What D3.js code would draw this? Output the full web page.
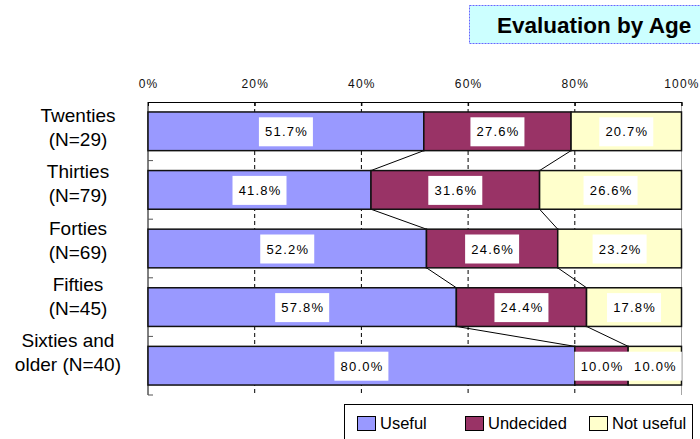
<!DOCTYPE html>
<html>
<head>
<meta charset="utf-8">
<script src="https://cdn.jsdelivr.net/npm/d3@7"></script>
<style>
  body { margin: 0; background: #fff; }
  svg { display: block; }
  svg text { font-family: "Liberation Sans", Arial, sans-serif; }
</style>
</head>
<body>
<div id="chart"></div>
<script>
// Data
const categories = ["Twenties (N=29)", "Thirties (N=79)", "Forties (N=69)", "Fifties (N=45)", "Sixties and older (N=40)"];
const labelLines = [["Twenties", "(N=29)"], ["Thirties", "(N=79)"], ["Forties", "(N=69)"], ["Fifties", "(N=45)"], ["Sixties and", "older (N=40)"]];
const seriesNames = ["Useful", "Undecided", "Not useful"];
const useful = [51.7, 41.8, 52.2, 57.8, 80.0];
const undecided = [27.6, 31.6, 24.6, 24.4, 10.0];
const notUseful = [20.7, 26.6, 23.2, 17.8, 10.0];
const xTicks = [0, 20, 40, 60, 80, 100];
const colors = ["#9999ff", "#993366", "#ffffcc"];

const W = 700, H = 439;
const margin = { top: 102, left: 148, right: 19, bottom: 44 };

const svg = d3.select("#chart").append("svg")
    .attr("width", W)
    .attr("height", H);

// Title box
svg.append("rect")
    .attr("x", 469.5).attr("y", 5.5)
    .attr("width", 240).attr("height", 38)
    .attr("fill", "#ccffff")
    .attr("stroke", "#6666ff")
    .attr("stroke-dasharray", "2,1");
svg.append("text")
    .attr("x", 497).attr("y", 33)
    .style("font-size", "22.5px")
    .style("font-weight", "bold")
    .attr("fill", "#000")
    .text("Evaluation by Age");

// rows for stacking
const rows = categories.map((c, i) => ({
    cat: c,
    "Useful": useful[i],
    "Undecided": undecided[i],
    "Not useful": notUseful[i]
}));
const stacked = d3.stack().keys(seriesNames)(rows);

const x = d3.scaleLinear()
    .domain([0, 100])
    .range([margin.left, W - margin.right + 0.5]);

const y = d3.scaleBand()
    .domain(categories)
    .range([margin.top, H - margin.bottom])
    .paddingInner(0.34)
    .paddingOuter(0.17);

const color = d3.scaleOrdinal().domain(seriesNames).range(colors);

// Dashed gridlines
svg.append("g")
    .selectAll("line")
    .data(xTicks.slice(1))
    .join("line")
    .attr("x1", d => x(d)).attr("x2", d => x(d))
    .attr("y1", margin.top).attr("y2", H - margin.bottom)
    .attr("stroke", "#000")
    .attr("stroke-width", 1)
    .attr("stroke-dasharray", d => d === 100 ? null : "4,3")
    .attr("stroke-opacity", d => d === 100 ? 0.35 : 1);

// Top axis
const topAxis = svg.append("g")
    .attr("transform", `translate(0,${margin.top})`)
    .call(d3.axisTop(x).tickValues(xTicks).tickFormat(d => d + "%")
        .tickSizeInner(-4).tickSizeOuter(-4).tickPadding(14));
topAxis.selectAll("text")
    .attr("font-family", "'Liberation Sans', Arial, sans-serif")
    .attr("font-size", 12)
    .style("font-size", "12px")
    .style("letter-spacing", "1.2px")
    .attr("fill", "#111");
topAxis.select(".domain").attr("stroke", "#000");
topAxis.selectAll(".tick line").attr("stroke", "#000");

// Left axis line with ticks at band boundaries
const bounds = d3.range(categories.length + 1).map(i => y.range()[0] + i * y.step());
svg.append("line")
    .attr("x1", x(0)).attr("x2", x(0))
    .attr("y1", margin.top).attr("y2", H - margin.bottom)
    .attr("stroke", "#000");
svg.append("g")
    .selectAll("line")
    .data(bounds.slice(1))
    .join("line")
    .attr("x1", x(0)).attr("x2", x(0) + 5)
    .attr("y1", d => d).attr("y2", d => d)
    .attr("stroke", "#555");

// Connector lines between bars
const conn = svg.append("g");
for (let s = 0; s < 2; s++) {
    for (let i = 0; i < categories.length - 1; i++) {
        conn.append("line")
            .attr("x1", x(stacked[s][i][1]))
            .attr("y1", y(categories[i]) + y.bandwidth())
            .attr("x2", x(stacked[s][i + 1][1]))
            .attr("y2", y(categories[i + 1]))
            .attr("stroke", "#000")
            .attr("stroke-width", 1);
    }
}

// Bars
svg.append("g")
    .selectAll("g")
    .data(stacked)
    .join("g")
    .attr("fill", d => color(d.key))
    .selectAll("rect")
    .data(d => d)
    .join("rect")
    .attr("x", d => x(d[0]))
    .attr("y", d => y(d.data.cat))
    .attr("width", d => x(d[1]) - x(d[0]))
    .attr("height", y.bandwidth())
    .attr("stroke", "#111")
    .attr("stroke-width", 1.5);

// Value labels
const labels = svg.append("g");
stacked.forEach(series => {
    series.forEach(d => {
        const cx = x((d[0] + d[1]) / 2);
        const cy = y(d.data.cat) + y.bandwidth() / 2;
        labels.append("rect")
            .attr("x", cx - 27).attr("y", cy - 14)
            .attr("width", 54).attr("height", 29)
            .attr("fill", "#fff");
        labels.append("text")
            .attr("x", cx + 0.6).attr("y", cy + 5)
            .attr("text-anchor", "middle")
            .style("font-size", "13px")
            .style("letter-spacing", "1.2px")
            .attr("fill", "#000")
            .text((d[1] - d[0]).toFixed(1) + "%");
    });
});

// Category labels
const labelY = d3.scalePoint().domain(categories).range([122, 347]);
const catG = svg.append("g");
categories.forEach((c, i) => {
    const t = catG.append("text")
        .attr("text-anchor", "middle")
        .style("font-size", "19px")
        .attr("fill", "#000");
    labelLines[i].forEach((line, k) => {
        t.append("tspan")
            .attr("x", 78)
            .attr("y", labelY(c) + k * 24)
            .text(line);
    });
    const w = t.node().getBBox().width;
    if (78 + w / 2 > 121) t.selectAll("tspan").attr("x", 121 - w / 2);
});

// Legend
const legend = svg.append("g");
legend.append("rect")
    .attr("x", 344.5).attr("y", 404.5)
    .attr("width", 348).attr("height", 40)
    .attr("fill", "#fff")
    .attr("stroke", "#000");
const legendX = [357, 465, 589];
seriesNames.forEach((s, i) => {
    legend.append("rect")
        .attr("x", legendX[i] + 0.5).attr("y", 416.5)
        .attr("width", 18).attr("height", 14)
        .attr("fill", color(s))
        .attr("stroke", "#000");
    legend.append("text")
        .attr("x", legendX[i] + 23).attr("y", 429)
        .style("font-size", "16.5px")
        .attr("fill", "#000")
        .text(s);
});
</script>
</body>
</html>
